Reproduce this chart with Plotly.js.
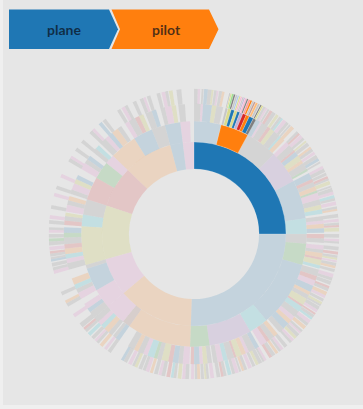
<!DOCTYPE html>
<html><head><meta charset="utf-8">
<script src="https://cdn.plot.ly/plotly-3.0.1.min.js"></script>
<style>html,body{margin:0;padding:0;background:#e6e6e6;}#chart{width:363px;height:409px;}</style>
</head><body><div id="chart"></div>
<script>
// ---------- DATA ----------
const sequence = ['plane', 'pilot'];

const l1Names  = ['plane','car','ship','boat','bus','train','truck','bike','taxi'];
const l1Values = [90, 92, 48, 24, 34, 26, 31, 8, 7];
const l1Colors = ['b','b','o','pk','ol','r','o','b','pk'];

const l2Parent = [0,0,0,0,0,0, 1,1,1,1,1,1, 2,2,2, 3,3,3, 4,4,4, 5,5,5, 6,6,6, 7, 8];
const l2Names  = ['jet','pilot','wing','cabin','flight','crew', 'road','wheel','driver','engine','seat','door',
                  'sea','deck','port', 'river','oar','sail', 'stop','route','ticket', 'rail','station','track',
                  'load','cargo','diesel', 'pedal','cab'];
const l2Values = [14,14.5,16.5,17,20,8, 5,11,34,10,22,10, 33,4,11, 10,12,2, 20,6,8, 12,9,5, 14,10,7, 8, 5];
const l2Colors = ['b','o','gr','p','b','c', 'gr','g','b','c','p','g', 'o','br','pk', 'pk','b','gr', 'ol','c','gr', 'r','g','pk', 'o','b','gr', 'b','pk'];

const l3Parent = [0,0,0,0,0,
  1,1,1,1,1,1,1,1,1,1,
  2,2,2,2,2,2,2,2,
  3,3,3,3,3,3,3,3,
  4,4,4,4,4,4,4,4,4,
  5,5,5,5,
  6,6,
  7,7,7,7,7,7,
  8,8,8,8,8,8,8,8,8,8,8,8,8,8,
  9,9,9,9,
  10,10,10,10,10,10,10,10,10,10,
  11,11,11,11,11,
  12,12,12,12,12,12,12,12,12,12,12,12,
  13,13,
  14,14,14,14,14,
  15,15,15,
  16,16,16,16,
  18,18,18,18,18,18,18,18,
  19,19,19,
  20,20,20,
  21,21,21,21,
  22,22,22,
  23,23,
  24,24,24,24,24,
  25,25,25,25,
  26,26,
  27,27,27,
  28];
const l3Values = [3,1,4,2,3,
  1.2,1.5,1.5,1.3,1.2,1.4,1.6,1.5,2.0,1.3,
  2,1,3,1.5,2,3,1,2,
  2,3,1,2,2.5,1.5,3,1,
  3,1.5,2,2,1,3,2.5,2,2,
  2,1.5,2,2,
  2,2,
  2,1.5,2,1,2.5,1.5,
  3,2,2.5,3,1.5,2,3,1,2.5,3,2,2,3,2.5,
  2,2.5,1.5,3,
  2,3,1.5,2,2.5,1,3,2,2.5,2,
  2,2,1.5,2.5,1.5,
  3,2,2.5,2,3,2,1.5,3,2,2.5,2,3,
  2,1.5,
  2,2.5,2,2,2.5,
  3,2,2.5,
  3,2,2,3,
  3,2,2,2.5,2,3,2,2.5,
  2,2,1.5,
  3,2,2,
  2,3,2,2,
  3,2,2,
  2,2,
  3,2,2,3,2,
  2,3,2,2,
  3,2,
  2,3,2,
  3];
const l3Colors = ['gr','pk','b','ol','gr',
  'lgr','lol','b','lol','b','lp','r','o','b','gr',
  'b','pk','gr','r','ol','gr','c','o',
  'pk','gr','r','b','ol','o','gr','g',
  'b','r','gr','o','g','pk','gr','ol','c',
  'gr','pk','o','b',
  'r','gr',
  'pk','gr','o','r','ol','c',
  'gr','r','pk','b','o','gr','ol','r','c','gr','pk','o','b','gr',
  'o','gr','r','pk',
  'b','gr','pk','o','ol','r','gr','c','pk','gr',
  'gr','ol','pk','b','r',
  'pk','gr','b','r','ol','gr','g','c','pk','gr','o','gr',
  'b','gr',
  'gr','o','c','pk','gr',
  'gr','b','pk',
  'pk','gr','c','o',
  'gr','pk','c','o','r','gr','g','b',
  'r','gr','ol',
  'pk','gr','o',
  'gr','pk','ol','b',
  'pk','gr','b',
  'gr','c',
  'gr','pk','b','o','gr',
  'pk','gr','r','ol',
  'gr','b',
  'gr','pk','ol',
  'gr'];

const l4Parent = [0,0,1,2,2,2,3,3,4,4,5,5,6,6,7,7,8,8,9,9,10,10,11,11,12,12,13,13,14,14,
  15,15,16,17,17,18,19,19,20,20,21,22,
  23,23,24,24,25,26,27,27,28,29,29,30,
  31,31,32,33,33,34,35,36,36,37,37,38,39,39,
  40,41,42,42,43,44,45,45,
  46,47,48,48,49,50,50,51,
  52,52,53,54,54,55,55,56,57,57,58,58,59,60,60,61,61,62,63,63,64,64,65,65,
  66,67,67,68,69,69,
  70,70,71,71,72,73,74,74,75,76,76,77,78,78,79,
  80,81,81,82,83,83,84,
  85,85,86,87,87,88,89,89,90,91,92,92,93,94,94,95,96,96,
  97,98,99,100,100,101,102,103,103,
  104,106,107,107,109,
  111,111,112,113,113,114,114,115,116,116,117,118,118,
  119,120,122,124,125,127,129,129,131,132,
  134,134,136,137,139,140,140,142,143,143,144,145,146,146,147,148];
const l4Values = [1.5,1,0.8,1.5,1.5,0.8,1,0.8,1.2,1,0.6,0.5,0.7,0.7,0.8,0.6,0.6,0.6,0.6,0.5,0.7,0.6,0.8,0.7,0.7,0.7,0.9,0.9,0.6,0.6,
  1,0.8,0.8,1.2,1.5,1.2,1,0.8,1.5,1.2,0.8,1.5,
  1,0.8,1.5,1,0.8,1.5,1,1.2,1.2,1.5,1.2,0.8,
  1.2,1.5,1.2,1,0.8,1.5,0.8,1.5,1.2,1.2,1,1.5,1,0.8,
  1.5,1.2,1,0.8,1.5,1.5,1,0.8,
  1.5,1.2,1,0.8,0.8,1.2,1,1.2,
  1.5,1.2,1.5,1,1.2,1.5,1.2,1.2,1,0.8,1.5,1.2,0.8,1.2,1,1.5,1.2,1.5,1,0.8,1.5,1.2,1.2,1,
  1.5,1.2,1,1.2,1.5,1.2,
  1,0.8,1.5,1.2,1.2,1.5,1.2,1,0.8,1.5,1.2,1.5,1.2,1,1.5,
  1.5,1,0.8,1.2,1.2,1,1.2,
  1.5,1.2,1.5,1.2,1,1.5,1.5,1.2,1.5,1.2,1.5,1.2,1.5,1.2,1,1.5,1.5,1.2,
  1.5,1.2,1.5,1.2,1,1.5,1.5,1.2,1,
  2,1.5,1.5,1.2,1.5,
  1.5,1.2,1.5,1,0.8,1.2,1,1.5,1.5,1.2,1.5,1.2,1,
  1.5,1.5,1.5,1.5,1.5,1.5,1.5,1.2,1.5,1.5,
  1.5,1.2,1.5,1.5,1.5,1.5,1.2,1.5,1.5,1,1.5,1.5,1.5,1.2,1.5,2];
const l4Colors = ['gr','pk','gr','b','gr','ol','gr','pk','gr','o','lgr','lol','lg','gr','lgr','lb','lol','lpk','lgr','lp','lpk','gr','lr','o','lgr','lbr','lo','lgr','gr','lol',
  'gr','pk','gr','r','gr','ol','gr','c','pk','gr','gr','o',
  'gr','r','pk','gr','ol','gr','o','gr','pk','gr','b','gr',
  'pk','gr','gr','r','gr','ol','gr','gr','pk','c','gr','pk','gr','o',
  'gr','pk','gr','r','ol','gr','pk','gr',
  'gr','r','gr','ol','pk','gr','o','gr',
  'pk','gr','gr','r','gr','o','pk','gr','ol','gr','gr','pk','r','gr','c','pk','gr','o','gr','pk','gr','ol','pk','gr',
  'gr','pk','gr','o','gr','r',
  'pk','gr','gr','ol','gr','pk','gr','o','gr','pk','gr','c','gr','r','gr',
  'pk','gr','ol','gr','o','gr','pk',
  'gr','pk','ol','gr','c','r','gr','pk','gr','o','pk','gr','gr','ol','gr','pk','gr','b',
  'gr','pk','o','gr','pk','gr','c','gr','r',
  'gr','pk','gr','o','gr',
  'pk','gr','gr','b','gr','gr','r','pk','gr','g','gr','pk','gr',
  'gr','pk','gr','pk','gr','pk','gr','pk','gr','gr',
  'gr','pk','b','gr','gr','pk','gr','gr','gr','pk','gr','gr','pk','gr','ol','gr'];

// ---------- STYLE ----------
const palette = {b:'#1f77b4', lb:'#aec7e8', o:'#ff7f0e', lo:'#ffbb78', g:'#2ca02c', lg:'#98df8a',
  r:'#d62728', lr:'#ff9896', p:'#9467bd', lp:'#c5b0d5', br:'#8c564b', lbr:'#c49c94',
  pk:'#e377c2', lpk:'#f7b6d2', gr:'#7f7f7f', lgr:'#c7c7c7', ol:'#bcbd22', lol:'#dbdb8d', c:'#17becf', lc:'#9edae5'};
const FADE = 0.17;
const BG = '#e6e6e6';
const W = 363, H = 409, CX = 194, CY = 234, R = 145.5;
const DEPTH = 5;

function rgba(hex, a){
  const n = parseInt(hex.slice(1),16);
  return 'rgba(' + (n>>16&255) + ',' + (n>>8&255) + ',' + (n&255) + ',' + a + ')';
}

// ---------- PARTITION ----------
const total = l1Values.reduce((a,b)=>a+b,0);
const k = 360/total;
function starts(parents, values, parentStart){
  const cur = {}; const out = [];
  values.forEach((v,i)=>{ const p = parents[i]; if (cur[p]===undefined) cur[p] = parentStart[p]; out.push(cur[p]); cur[p] += v; });
  return out;
}
const s1 = starts(l1Values.map(()=>0), l1Values, [0]);
const s2 = starts(l2Parent, l2Values, s1);
const s3 = starts(l3Parent, l3Values, s2);
const s4 = starts(l4Parent, l4Values, s3);

// highlight: sequence path plus descendants of the last node
const h1 = l1Names.map(n => n === sequence[0]);
const h2 = l2Names.map((n,i) => h1[l2Parent[i]] && n === sequence[1]);
const h3 = l3Parent.map(p => h2[p]);
const h4 = l4Parent.map(p => h3[p]);

const theta=[], width=[], base=[], rr=[], cols=[], lines=[], txt=[];
function add(startArr, values, colorKeys, hl, depth, names){
  const b0 = Math.sqrt(depth/DEPTH), b1 = Math.sqrt((depth+1)/DEPTH);
  values.forEach((v,i)=>{
    theta.push((startArr[i] + v/2)*k);
    width.push(v*k);
    base.push(b0);
    rr.push(b1-b0);
    const a = hl[i] ? 1 : FADE;
    cols.push(rgba(palette[colorKeys[i]], a));
    lines.push(rgba('#ffffff', hl[i] ? 0.55 : 0.12));
    txt.push(names ? names[i] : '');
  });
}
add(s1, l1Values, l1Colors, h1, 1, l1Names);
add(s2, l2Values, l2Colors, h2, 2, l2Names);
add(s3, l3Values, l3Colors, h3, 3, null);
add(s4, l4Values, l4Colors, h4, 4, null);

const trace = {
  type:'barpolar', theta: theta, width: width, base: base, r: rr, text: txt,
  hoverinfo:'text',
  marker:{color: cols, line:{color: lines, width: 0.4}}
};

// ---------- BREADCRUMB ----------
const X = px => px/W, Y = py => 1 - py/H;
function path(pts){ return 'M' + pts.map(p => X(p[0]).toFixed(5)+','+Y(p[1]).toFixed(5)).join(' L') + ' Z'; }
const crumbColors = [palette.b, palette.o];
const shapes = [
  {type:'path', xref:'paper', yref:'paper', line:{width:0}, fillcolor:crumbColors[0],
   path: path([[9,9.5],[109,9.5],[118,29.3],[109,49],[9,49]])},
  {type:'path', xref:'paper', yref:'paper', line:{width:0}, fillcolor:crumbColors[1],
   path: path([[111.5,9.5],[209,9.5],[218.5,29.3],[209,49],[111.5,49],[120,29.3]])},
  {type:'rect', xref:'paper', yref:'paper', line:{width:0}, fillcolor:'#efefef', x0:0, x1:X(3), y0:0, y1:1},
  {type:'rect', xref:'paper', yref:'paper', line:{width:0}, fillcolor:'#efefef', x0:0, x1:1, y0:0, y1:1 - 405/H}
];
const annotations = sequence.map((s,i)=>({
  text: s, xref:'paper', yref:'paper', x: X(i===0 ? 64 : 166), y: Y(29.5),
  xanchor:'center', yanchor:'middle', showarrow:false,
  font:{family:'Lato, "Open Sans", sans-serif', size:14, weight:700, color:'rgba(10,15,25,0.72)'}
}));

const layout = {
  width: W, height: H, margin:{l:0,r:0,t:0,b:0},
  paper_bgcolor: BG, plot_bgcolor: BG, showlegend:false,
  polar:{
    domain:{x:[X(CX-R), X(CX+R)], y:[Y(CY+R), Y(CY-R)]},
    bgcolor:'rgba(0,0,0,0)', barmode:'overlay', bargap:0, hole:0,
    angularaxis:{rotation:90, direction:'clockwise', showgrid:false, showline:false, showticklabels:false, ticks:''},
    radialaxis:{visible:false, range:[0,1], showgrid:false}
  },
  shapes: shapes, annotations: annotations
};
Plotly.newPlot('chart', [trace], layout, {displayModeBar:false, staticPlot:true});
</script></body></html>
